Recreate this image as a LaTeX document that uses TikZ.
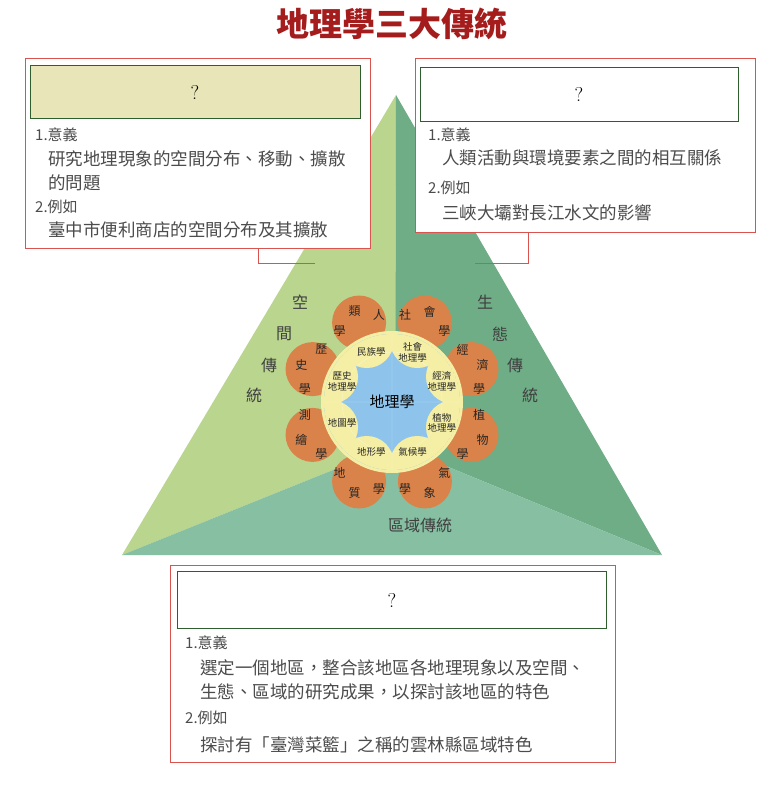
\documentclass[tikz,border=0pt]{standalone}
\usepackage{fontspec}
\newfontfamily\cjk{Noto Sans CJK TC}
\usetikzlibrary{positioning}
\definecolor{boxred}{HTML}{D9534F}
\definecolor{headgreen}{HTML}{2E5E2E}
\definecolor{beige}{HTML}{E8E6B8}
\definecolor{faceL}{HTML}{B9D58E}
\definecolor{faceR}{HTML}{6EAD85}
\definecolor{faceB}{HTML}{86BFA2}
\definecolor{petal}{HTML}{D9834A}
\definecolor{ring}{HTML}{F5EFA6}
\definecolor{globe}{HTML}{8EC4EC}
\definecolor{titlered}{HTML}{A51C1C}
\tikzset{
  outerbox/.style={draw=boxred, line width=0.8pt, fill=white},
  headbox/.style={draw=headgreen, line width=0.8pt},
  txt/.style={anchor=west, font=\cjk\fontsize{17.5}{19}\selectfont, text=black!70, inner sep=0pt},
  numtxt/.style={anchor=west, font=\cjk\fontsize{15}{17}\selectfont, text=black!70, inner sep=0pt},
  petaltxt/.style={font=\cjk\fontsize{12}{12}\selectfont, text=black!85},
  innertxt/.style={font=\cjk\fontsize{9.5}{10.5}\selectfont, align=center, text=black!85},
  tradtxt/.style={font=\cjk\fontsize{16}{16}\selectfont, text=black!75}
}
\begin{document}
\begin{tikzpicture}[x=1pt,y=-1pt]
  \useasboundingbox[fill=white] (0,0) rectangle (772,792);

  % 三角錐
  \coordinate (apex) at (396,95);
  \coordinate (bl) at (122,555);
  \coordinate (br) at (662,555);
  \coordinate (mid) at (395,445);
  \fill[faceL] (apex) -- (bl) -- (mid) -- cycle;
  \fill[faceR] (apex) -- (br) -- (mid) -- cycle;
  \fill[faceB] (bl) -- (br) -- (mid) -- cycle;

  % 花瓣
  \coordinate (c) at (392,402);
  \foreach \a in {22.5,67.5,...,360}
    \fill[petal] (c) ++(\a:86) circle (27);
  \fill[ring] (c) circle (71);
  \begin{scope}
    \clip (c) circle (68);
    \fill[globe] (c) circle (68);
    \foreach \a in {22.5,67.5,...,360}
      \fill[ring] (c) ++(\a:66) circle (27);
  \end{scope}
  \draw[white, opacity=0.4] (c) circle (50) (c) ++(-68,0) -- ++(136,0)
    (c) ++(0,-68) -- ++(0,136);

  \node[font=\cjk\fontsize{15}{15}\selectfont] (geo) at (c) {地理學};

  % 外圈學科
  \foreach \a/\p/\q/\r in {67.5/社/會/學, 22.5/經/濟/學, -22.5/植/物/學, -67.5/氣/象/學}{
    \path (c) ++({-(\a+14)}:88) node[petaltxt] {\p}
          (c) ++({-\a}:98) node[petaltxt] {\q}
          (c) ++({-(\a-14)}:88) node[petaltxt] {\r};
  }
  \foreach \a/\p/\q/\r in {112.5/人/類/學, 157.5/歷/史/學, 202.5/測/繪/學, 247.5/地/質/學}{
    \path (c) ++({-(\a-14)}:88) node[petaltxt] {\p}
          (c) ++({-\a}:98) node[petaltxt] {\q}
          (c) ++({-(\a+14)}:88) node[petaltxt] {\r};
  }

  % 內圈學科
  \foreach \a/\t in {112.5/民族學, 67.5/社會\\地理學, 22.5/經濟\\地理學, -22.5/植物\\地理學,
                     -67.5/氣候學, -112.5/地形學, -157.5/地圖學, 157.5/歷史\\地理學}
    \path (c) ++({-\a}:54) node[innertxt] {\t};

  % 三大傳統
  \foreach \t/\x/\y in {空/300/302, 間/284/334, 傳/269/365, 統/254/395}
    \node[tradtxt] at (\x,\y) {\t};
  \foreach \t/\x/\y in {生/485/302, 態/500/334, 傳/515/365, 統/530/395}
    \node[tradtxt] at (\x,\y) {\t};
  \node[tradtxt] (region) at (420,525) {區域傳統};

  % 標題
  \node[font=\cjk\bfseries\fontsize{33}{33}\selectfont, text=titlered] (title) at (392,24) {地理學三大傳統};

  % 左框
  \draw[outerbox] (25,58) rectangle (370,248);
  \node[headbox, fill=beige, minimum width=330pt, minimum height=53pt, font=\fontsize{20}{20}\selectfont] (headL) at (195,92) {?};
  \node[numtxt] at (35,135) {1.意義};
  \node[txt] at (48,159) {研究地理現象的空間分布、移動、擴散};
  \node[txt] at (48,183) {的問題};
  \node[numtxt] at (35,207) {2.例如};
  \node[txt] at (48,230) {臺中市便利商店的空間分布及其擴散};

  % 右框
  \draw[outerbox] (415,58) rectangle (755,232);
  \node[headbox, fill=white, minimum width=318pt, minimum height=54pt, font=\fontsize{20}{20}\selectfont] (headR) at (579,94) {?};
  \node[numtxt] at (428,135) {1.意義};
  \node[txt] at (442,158) {人類活動與環境要素之間的相互關係};
  \node[numtxt] at (428,188) {2.例如};
  \node[txt] at (442,213) {三峽大壩對長江水文的影響};

  % 下框
  \draw[outerbox] (170,565) rectangle (615,762);
  \node[headbox, fill=white, minimum width=429pt, minimum height=57pt, font=\fontsize{20}{20}\selectfont] (headB) at (392,600) {?};
  \node[numtxt] at (185,643) {1.意義};
  \node[txt] at (200,668) {選定一個地區，整合該地區各地理現象以及空間、};
  \node[txt] at (200,692) {生態、區域的研究成果，以探討該地區的特色};
  \node[numtxt] at (185,718) {2.例如};
  \node[txt] at (200,745) {探討有「臺灣菜籃」之稱的雲林縣區域特色};

  % 框線
  \coordinate (lt) at (258,248);
  \coordinate (lb) at (258,263);
  \coordinate (le) at (315,263);
  \coordinate (rt) at (528,232);
  \coordinate (rb) at (528,263);
  \coordinate (re) at (475,263);
  \draw[boxred, line width=0.8pt] (lt) -- (lb) -- (le);
  \draw[boxred, line width=0.8pt] (rt) -- (rb) -- (re);
\end{tikzpicture}
\end{document}
